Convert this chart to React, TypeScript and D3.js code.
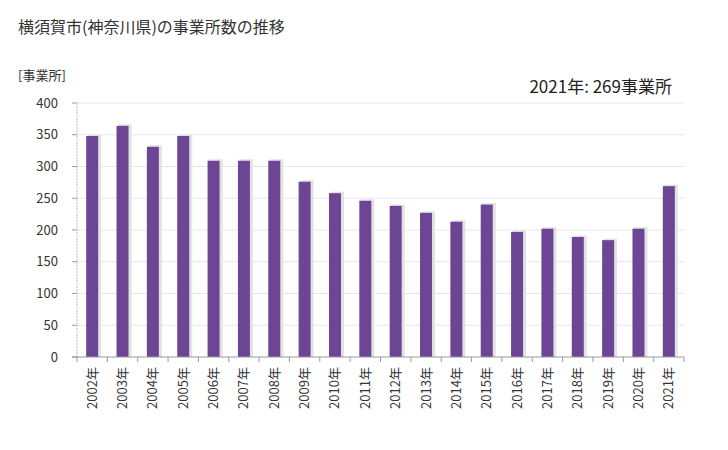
import React from "react";
import * as d3 from "d3";

const years = ["2002年","2003年","2004年","2005年","2006年","2007年","2008年","2009年","2010年","2011年","2012年","2013年","2014年","2015年","2016年","2017年","2018年","2019年","2020年","2021年"];
const counts = [348, 364, 331, 348, 309, 309, 309, 276, 258, 246, 238, 227, 213, 240, 197, 202, 189, 184, 202, 269];
const yTicks = [0, 50, 100, 150, 200, 250, 300, 350, 400];
const titleText = "横須賀市(神奈川県)の事業所数の推移";
const unitText = "[事業所]";
const noteText = "2021年: 269事業所";

const W = 728, H = 450;
const m = { left: 77, right: 684, top: 103, bottom: 357 };
const font = "'Noto Sans CJK JP', 'Noto Sans', sans-serif";

export default function App() {
  const xb = d3.scaleBand<string>().domain(years).range([m.left, m.right]);
  const y = d3.scaleLinear().domain([0, 400]).range([m.bottom, m.top]);
  const bw = 12;
  return (
    <svg width={W} height={H} style={{ position: "absolute", left: 0, top: 0, background: "#fff" }} fontFamily={font}>
      <text x={18} y={33} fontSize={16} fill="#333">{titleText}</text>
      <text x={18} y={80} fontSize={13} fill="#333">{unitText}</text>
      <text x={672} y={93} fontSize={17} fill="#222" textAnchor="end">{noteText}</text>
      {yTicks.map(t => (
        <g key={t}>
          {t > 0 && <line x1={m.left} x2={m.right} y1={y(t)} y2={y(t)} stroke="#e6e6e6" strokeWidth={1} />}
          <line x1={m.left - 5} x2={m.left} y1={y(t)} y2={y(t)} stroke="#999" strokeWidth={1} />
          <text x={58} y={y(t) + 4.5} fontSize={13} fill="#333" textAnchor="end">{t}</text>
        </g>
      ))}
      {years.map((yr, i) => {
        const cx = (xb(yr) as number) + xb.bandwidth() / 2;
        const top = y(counts[i]);
        return (
          <g key={yr}>
            <rect x={cx - bw / 2 + 1.5} y={top - 1.5} width={bw + 1.5} height={m.bottom - top + 1.5} fill="#e2e2e2" />
            <rect x={cx - bw / 2} y={top} width={bw} height={m.bottom - top} fill="#6c4595" />
          </g>
        );
      })}
      <line x1={m.left} x2={m.left} y1={m.top} y2={m.bottom} stroke="#bbb" strokeDasharray="2,1" />
      <line x1={m.left - 5} x2={m.right} y1={m.bottom} y2={m.bottom} stroke="#999" />
      {years.map(yr => (
        <line key={"t" + yr} x1={(xb(yr) as number)} x2={(xb(yr) as number)} y1={m.bottom} y2={m.bottom + 5} stroke="#999" />
      ))}
      <line x1={m.right} x2={m.right} y1={m.bottom} y2={m.bottom + 5} stroke="#999" />
      {years.map(yr => {
        const cx = (xb(yr) as number) + xb.bandwidth() / 2;
        return (
          <text key={"l" + yr} transform={`translate(${cx + 4.5},${m.bottom + 10}) rotate(-90)`} fontSize={13} fill="#333" textAnchor="end">{yr}</text>
        );
      })}
    </svg>
  );
}
